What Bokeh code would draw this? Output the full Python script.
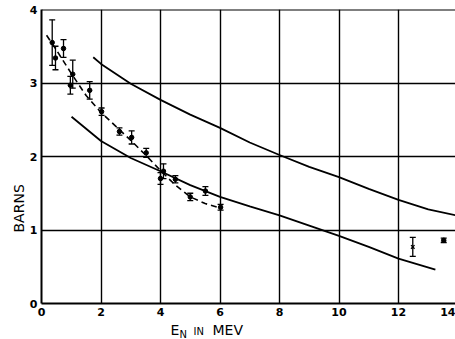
from bokeh.plotting import figure
from bokeh.layouts import column
from bokeh.models import ColumnDataSource, Whisker, TeeHead, Span, Title, Range1d, FixedTicker
from bokeh.core.properties import value
from bokeh.embed import file_html
from bokeh.resources import INLINE

# ---- data ----
energy_pts = [0.36, 0.47, 0.74, 0.97, 1.05, 1.62, 2.02, 2.62, 3.03, 3.52, 4.0, 4.1, 4.5, 5.0, 5.51, 6.02, 13.52]
barns_pts = [3.55, 3.34, 3.47, 2.97, 3.12, 2.90, 2.61, 2.34, 2.26, 2.05, 1.70, 1.80, 1.69, 1.45, 1.53, 1.31, 0.86]
err_pts = [0.31, 0.16, 0.12, 0.12, 0.19, 0.12, 0.05, 0.05, 0.09, 0.06, 0.08, 0.10, 0.05, 0.05, 0.06, 0.04, 0.03]

xmark_energy = [12.48]
xmark_barns = [0.77]
xmark_err = [0.13]

upper_energy = [1.74, 2.0, 3.0, 4.0, 5.0, 6.0, 7.0, 8.0, 9.0, 10.0, 11.0, 12.0, 13.0, 13.92]
upper_barns = [3.35, 3.26, 2.99, 2.77, 2.57, 2.39, 2.19, 2.02, 1.86, 1.72, 1.56, 1.41, 1.28, 1.20]

lower_energy = [1.01, 2.0, 3.0, 4.0, 5.0, 6.0, 7.0, 8.0, 9.0, 10.0, 11.0, 12.0, 13.24]
lower_barns = [2.54, 2.21, 1.98, 1.80, 1.61, 1.45, 1.32, 1.20, 1.06, 0.92, 0.77, 0.61, 0.46]

dash_energy = [0.17, 0.5, 1.0, 1.5, 2.0, 2.5, 3.0, 3.5, 4.0, 4.5, 5.0, 5.5, 6.0]
dash_barns = [3.65, 3.45, 3.13, 2.83, 2.60, 2.41, 2.22, 2.02, 1.81, 1.61, 1.45, 1.36, 1.30]

x_ticks = [0, 2, 4, 6, 8, 10, 12]
y_ticks = [0, 1, 2, 3, 4]
y_title = "BARNS"
x_title_parts = ["E", "N", "IN", "MEV"]

# ---- layout ----
W = 455
H_MAIN, H_XT = 320, 19
BL, BR, BT, BB = 41, 0, 9, 17
PX_PER_MEV = 29.75
X_END = (W - BL - BR) / PX_PER_MEV
Y_END = 4

p = figure(width=W, height=H_MAIN, x_range=(0, X_END), y_range=(0, Y_END),
           output_backend="svg", toolbar_location=None,
           min_border_left=BL, min_border_right=BR, min_border_top=BT, min_border_bottom=BB)
p.outline_line_color = None
p.background_fill_color = "white"
p.border_fill_color = "white"

for ax in (p.xaxis[0], p.yaxis[0]):
    ax.major_tick_line_color = None
    ax.minor_tick_line_color = None
    ax.major_tick_out = 0
    ax.major_tick_in = 0
    ax.minor_tick_out = 0
    ax.axis_line_width = 2
    ax.axis_line_color = "black"
    ax.major_label_text_font = "DejaVu Sans"
    ax.major_label_text_font_style = "bold"
    ax.major_label_text_font_size = "11px"
    ax.major_label_text_color = "black"

# the "14" label sits on the clipped right edge, as in the reference
p.xaxis.ticker = FixedTicker(ticks=x_ticks + [X_END])
p.xaxis.major_label_overrides = {X_END: "14"}
p.yaxis.ticker = y_ticks
p.xaxis.major_label_standoff = 4
p.yaxis.major_label_standoff = 4

p.xgrid.ticker = FixedTicker(ticks=x_ticks)
p.xgrid.grid_line_color = "black"
p.xgrid.grid_line_width = 1.4
p.ygrid.grid_line_color = "black"
p.ygrid.grid_line_width = 1.4

p.add_layout(Span(location=Y_END, dimension="width", line_color="black", line_width=2))

# y title
p.add_layout(Title(text=y_title, align="left", offset=71, standoff=0,
                   text_font="DejaVu Sans", text_font_style="normal",
                   text_font_size="14px", text_color="black"), "left")

# curves
p.line(upper_energy, upper_barns, line_color="black", line_width=1.8)
p.line(lower_energy, lower_barns, line_color="black", line_width=1.8)
p.line(dash_energy, dash_barns, line_color="black", line_width=1.6, line_dash="6 4")

# error bars
src = ColumnDataSource(dict(
    x=energy_pts, y=barns_pts,
    lo=[b - e for b, e in zip(barns_pts, err_pts)],
    hi=[b + e for b, e in zip(barns_pts, err_pts)]))
p.add_layout(Whisker(base="x", lower="lo", upper="hi", source=src, line_width=1.3,
                     lower_head=TeeHead(size=6, line_width=1.3),
                     upper_head=TeeHead(size=6, line_width=1.3)))
p.scatter("x", "y", source=src, size=4.5, color="black")

src2 = ColumnDataSource(dict(
    x=xmark_energy, y=xmark_barns,
    lo=[b - e for b, e in zip(xmark_barns, xmark_err)],
    hi=[b + e for b, e in zip(xmark_barns, xmark_err)]))
p.add_layout(Whisker(base="x", lower="lo", upper="hi", source=src2, line_width=1.3,
                     lower_head=TeeHead(size=6, line_width=1.3),
                     upper_head=TeeHead(size=6, line_width=1.3)))
p.scatter("x", "y", source=src2, size=5, marker="x", line_color="black", line_width=1.3)

# ---- x title strip (shares the x scale) ----
q = figure(width=W, height=H_XT, x_range=p.x_range, y_range=Range1d(0, H_XT),
           x_axis_type=None, y_axis_type=None, output_backend="svg", toolbar_location=None,
           min_border_left=BL, min_border_right=BR, min_border_top=0, min_border_bottom=0)
q.outline_line_color = None
q.background_fill_color = "white"
q.border_fill_color = "white"


def mev_at(px):
    return (px - BL) / PX_PER_MEV


sizes = ["14px", "10px", "10px", "14px"]
lefts = [170, 179, 193, 212]
mids = [10.0, 5.5, 8.5, 10.0]
for t, s, lx, m in zip(x_title_parts, sizes, lefts, mids):
    q.text(x=[mev_at(lx)], y=[m], text=[t], text_font=value("DejaVu Sans"),
           text_font_size=s, text_align="left", text_baseline="middle", text_color="black")

layout = column(p, q, spacing=0)
open("out.html", "w").write(file_html(layout, INLINE))
